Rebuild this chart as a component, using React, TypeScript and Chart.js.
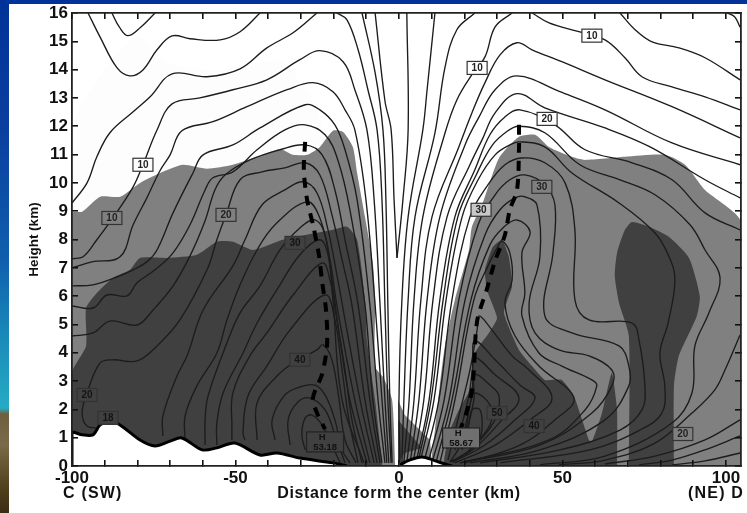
import React, { useEffect, useRef } from "react";
import { Chart, registerables } from "chart.js";

Chart.register(...registerables);

type P = [number, number];

const xMin = -100;
const xMax = 104.6;
const yMin = 0;
const yMax = 16;
const xLabelled = [-100, -50, 0, 50, 100];

// shaded regions, km
const faintShade: P[] = [[-100, 9], [-100, 12], [-90, 14], [-80, 15.2], [-70, 14.2], [-55, 14], [-36, 14.3], [-27, 13], [-20, 11]];
const midLeft: P[] = [[-100, 0], [-100, 8.94], [-96.9, 8.98], [-91.4, 9.51], [-85.3, 9.51], [-79.2, 10], [-72.2, 10.39], [-66.1, 10.64], [-58.7, 10.5], [-50.8, 10.64], [-43.4, 10.92], [-36.4, 11.2], [-32.4, 10.99], [-28.1, 10.99], [-24.2, 11.27], [-20.2, 11.84], [-17.1, 11.8], [-14.1, 11.27], [-12.8, 10.35], [-10.4, 8.8], [-8, 7.17], [-7.3, 5.87], [-7.3, 3.5], [-4.9, 3.15], [-2.1, 2.33], [-1.2, 0.11], [-1.2, 0]];
const darkLeft: P[] = [[-100, 0], [-100, 3.3], [-95.7, 4.24], [-95.7, 5.58], [-92.4, 6.11], [-87.5, 6.64], [-82.3, 6.93], [-79.2, 7.35], [-70.9, 7.35], [-61.8, 7.46], [-55.7, 7.92], [-50.8, 7.92], [-44.6, 7.63], [-35.5, 7.99], [-20.2, 8.34], [-15.9, 8.45], [-12.8, 7.99], [-10.4, 5.87], [-9.8, 4.45], [-7.3, 2.33], [-5.2, 0.11], [-5.2, 0]];
const midRight: P[] = [[10.1, 0], [10.1, 0.39], [11, 1.27], [12.5, 2.86], [14.1, 4.28], [17.1, 5.87], [21.4, 7.63], [22.3, 8.45], [25.4, 9.22], [30.6, 10.88], [36.7, 11.63], [41.6, 11.7], [45.9, 11.27], [52.9, 10.92], [56.9, 10.81], [69.1, 10.92], [81.3, 10.99], [87.5, 10.64], [93.6, 9.75], [104.6, 8.62], [104.6, 0]];
const midCentre: P[] = [[-0.3, 2.33], [1.8, 1.8], [9.5, 0.92], [10.1, 0], [-0.3, 0]];
const darkCentre: P[] = [[-0.3, 1.63], [7, 0.64], [1.8, 0.46], [-0.3, 0.11]];
const darkRightMain: P[] = [[13.8, 0], [13.8, 0.21], [15.3, 1.17], [18.3, 1.98], [22.3, 2.83], [23.2, 3.99], [27.5, 4.7], [30, 5.23], [26.9, 6.22], [26.3, 6.93], [28.7, 7.74], [31.5, 7.99], [33.6, 7.39], [34.6, 6.36], [32.1, 5.41], [36.7, 4.1], [40.7, 3.53], [44.6, 3.04], [49.8, 3.04], [53.5, 2.47], [58.1, 0.92], [59, 0.85], [62.1, 1.87], [65.1, 3.29], [66.7, 1.98], [66.7, 0]];
const darkBlob: P[] = [[70.3, 0], [70.3, 4.59], [67.3, 5.76], [66, 6.71], [66.7, 7.53], [69.1, 8.34], [71.3, 8.62], [76.5, 8.45], [82.6, 8.09], [88.7, 7.35], [92, 6.01], [91.1, 5.3], [85.6, 3.89], [84.1, 2.83], [84.1, 0]];

// ground
const terrainLeft: P[] = [[-100, 0], [-100, 1.17], [-96.9, 1.1], [-93.6, 1.1], [-91.4, 1.45], [-88.4, 1.59], [-85.3, 1.45], [-79.2, 0.92], [-74.6, 0.71], [-70, 0.88], [-66.4, 0.99], [-60.2, 0.57], [-55.7, 0.64], [-50.2, 0.81], [-42.5, 0.39], [-37.3, 0.46], [-30.3, 0.28], [-20.2, 0.11], [-15.9, 0]];
const terrainRight: P[] = [[0.3, 0.04], [3, 0.2], [7, 0.32], [10.7, 0.2], [14, 0.07], [16.2, 0]];

// contours on the left
const cTopDip: P[] = [[-87.8, 16], [-85.5, 15.5], [-82.9, 15.2], [-79, 15.5], [-74.6, 16]];
const cTop2: P[] = [[-95.1, 16], [-91.4, 15.15], [-86.2, 14.06], [-82.3, 13.78], [-78.3, 13.99], [-74, 14.7], [-69.4, 15.19], [-63.9, 15.09], [-54.7, 15.05], [-48.6, 15.34], [-42.5, 16]];
const cTop3: P[] = [[-100, 9.29], [-95.4, 10], [-92.4, 10.92], [-88.4, 11.77], [-81.3, 12.51], [-76.1, 13.04], [-69.4, 13.85], [-58.7, 13.75], [-48.6, 14.03], [-40.4, 14.77], [-32.4, 15.3], [-25.1, 16]];
const cDown1: P[] = [[-11.3, 16], [-7.3, 13.89], [-4.9, 11.87], [-4, 9.4], [-3.4, 5.69], [-2.8, 2.33], [-2.1, 0.11]];
const cDown2: P[] = [[-19, 16], [-15.9, 15.76], [-12.5, 14.7], [-9.5, 13.29], [-6.7, 11.87], [-5.2, 9.4], [-4.3, 5.69], [-3.4, 2.33], [-2.4, 0.11]];
const cLeftA: P[] = [[-100, 7.32], [-96.6, 7.39], [-92.4, 7.99], [-87.5, 8.76], [-81.3, 9.86], [-78.3, 10.64], [-74, 11.87], [-69.4, 12.79], [-60.9, 13], [-50.8, 13.29], [-40.4, 13.64], [-30.3, 14.35], [-24.2, 14.67], [-17.1, 14.28], [-13.5, 13.29], [-9.8, 11.87], [-7.6, 9.4], [-5.8, 5.69], [-4.3, 2.33], [-3.1, 0.11]];
const cLeftB: P[] = [[-100, 7], [-93.9, 7.21], [-85.3, 7.39], [-81.3, 8.52], [-77.1, 9.47], [-73.1, 10.43], [-70, 10.99], [-66.4, 11.84], [-56.9, 12.16], [-46.5, 12.69], [-34.2, 13.29], [-26.3, 13.54], [-20.2, 13.22], [-16.5, 12.58], [-13.5, 11.87], [-10.1, 9.4], [-7.3, 5.69], [-5.2, 2.33], [-3.7, 0.11]];
const cLeftC: P[] = [[-100, 6.36], [-93.6, 6.4], [-86.2, 6.68], [-81.3, 6.93], [-77.1, 7.21], [-74, 7.63], [-69.1, 8.94], [-63, 10.35], [-59.9, 10.99], [-50.8, 11.34], [-42.5, 11.94], [-28.7, 12.76], [-24.2, 12.58], [-19.6, 12.05], [-16.5, 11.17], [-12.8, 9.4], [-8.9, 5.69], [-6.4, 2.33], [-4.3, 0.11]];
const cLeftD: P[] = [[-100, 5.65], [-93.6, 5.58], [-89.3, 6.04], [-83.2, 6.01], [-80.1, 6.47], [-74.6, 6.93], [-69.1, 7.53], [-63.9, 8.52], [-59.3, 9.75], [-56.9, 10.18], [-50.8, 10.39], [-43.4, 11.17], [-34.9, 11.87], [-28.7, 12.05], [-22.6, 11.7], [-18.7, 10.81], [-15, 9.05], [-10.4, 5.69], [-8, 2.33], [-5.2, 0.11]];
const cLeftE: P[] = [[-100, 4.59], [-93.6, 4.7], [-88.4, 5.12], [-80.1, 4.98], [-75.2, 5.51], [-69.1, 6.36], [-63.9, 7.42], [-59.3, 8.66], [-56.3, 9.75], [-53.2, 10.28], [-45.6, 10.81], [-36.4, 11.17], [-28.7, 11.34], [-23.5, 10.99], [-19.6, 9.75], [-16.5, 7.99], [-12.5, 5.69], [-8.9, 2.33], [-5.8, 0.11]];
const cLeftF: P[] = [[-91.4, 1.34], [-95.4, 1.41], [-96.9, 1.87], [-95.4, 2.58], [-91.4, 3.64], [-87.5, 3.75], [-80.1, 3.71], [-74, 4.24], [-67, 5.16], [-58.7, 6.93], [-55.7, 7.99], [-52.9, 8.87], [-48.6, 10.11], [-41.9, 10.39], [-34.9, 10.53], [-28.7, 10.71], [-24.2, 10.28], [-20.5, 8.87], [-17.4, 7.28], [-14.4, 5.69], [-10.4, 2.33], [-6.7, 0.11]];
const cLeftG: P[] = [[-72.2, 1.06], [-72.2, 1.77], [-67.9, 3.18], [-64.8, 3.89], [-59.9, 5.51], [-50.8, 7.07], [-47.1, 7.99], [-41.9, 9.22], [-34.9, 9.75], [-29.4, 10.04], [-25.1, 9.65], [-21.7, 8.34], [-18.7, 6.57], [-16.5, 5.16], [-11.9, 2.33], [-7.6, 0.11]];
const cLeftH: P[] = [[-65.4, 0.88], [-65.4, 1.77], [-61.8, 2.83], [-55.7, 3.99], [-52.6, 5.16], [-48.6, 6.4], [-43.4, 7.63], [-37.9, 8.52], [-28.1, 9.33], [-24.2, 8.76], [-21.1, 7.28], [-19, 5.69], [-13.5, 2.33], [-8.9, 0.11]];
const cLeftI: P[] = [[-59.3, 0.74], [-59.3, 1.63], [-58.4, 2.47], [-52.6, 4.35], [-48.6, 5.41], [-42.5, 6.36], [-36.4, 7.63], [-30.3, 8.41], [-25.7, 8.69], [-22.6, 8.16], [-20.5, 6.57], [-18, 4.45], [-15, 2.33], [-9.8, 0.11]];
const cLeftJ: P[] = [[-55.7, 0.74], [-55.7, 1.52], [-53.8, 2.58], [-47.7, 3.99], [-43.4, 5.05], [-36.4, 6.4], [-30.3, 7.46], [-24.2, 7.99], [-21.7, 7.46], [-20.2, 5.87], [-17.4, 2.33], [-10.7, 0.11]];
const cLeftK: P[] = [[-51.1, 0.92], [-51.1, 1.41], [-50.8, 2.58], [-45.6, 3.89], [-40.4, 4.7], [-32.4, 6.04], [-23.5, 7.17], [-21.1, 6.57], [-19, 5.16], [-16.5, 3.39], [-14.4, 1.63], [-11.3, 0.11]];
const cLeftL: P[] = [[-47.1, 0.92], [-47.7, 1.17], [-46.2, 2.47], [-40.4, 3.53], [-33.3, 4.81], [-22.6, 6.04], [-19.6, 5.16], [-17.4, 3.39], [-15.3, 1.63], [-12.5, 0.11]];
const cLeftM: P[] = [[-43.4, 0.92], [-43.4, 2.23], [-37.3, 3.18], [-32.4, 3.64], [-25.1, 4.1], [-23.2, 4.28], [-20.5, 3.75], [-18.3, 2.33], [-16.5, 0.92], [-13.1, 0.11]];
const cLeftN: P[] = [[-37.9, 0.92], [-38.8, 1.63], [-34.9, 2.51], [-30.3, 2.79], [-25.7, 2.86], [-22.6, 2.51], [-19.6, 1.63], [-17.4, 0.57], [-15, 0.11]];
const cLeftO: P[] = [[-33.3, 0.74], [-33.9, 1.63], [-30.9, 2.26], [-27.2, 2.4], [-22.6, 1.98], [-19.6, 1.1], [-16.5, 0.11]];
const cLeftP: P[] = [[-28.7, 0.57], [-29.7, 1.1], [-28.7, 1.7], [-26.6, 1.8], [-23.5, 1.45], [-20.5, 0.74], [-18, 0.11]];

// central V
const cVeeLeft: P[] = [[-7.3, 16], [-4.3, 12.9], [-2.4, 11.87], [-1.5, 9.4], [-0.6, 7.35]];
const cVeeRight: P[] = [[2.4, 16], [2.8, 11.87], [1.2, 9.4], [-0.6, 7.35]];

// contours on the right
const cFanA: P[] = [[0.3, 0.11], [0, 2.33], [0.9, 5.87], [2.8, 8.8], [7.3, 11.87], [8.6, 13.29], [11, 16]];
const cFanB: P[] = [[0.9, 0.11], [1.5, 2.33], [2.8, 5.87], [4.9, 8.8], [11, 11.77], [14.1, 14.1], [17.7, 15.41], [23.2, 16]];
const cFanC: P[] = [[1.5, 0.11], [3.1, 2.33], [4.6, 5.87], [7.3, 8.8], [14.1, 11.77], [17.7, 12.93], [22.3, 13.82], [26.3, 14.45], [29.4, 15.51], [34.6, 16]];
const cRightA: P[] = [[2.4, 0.11], [4.6, 2.33], [6.7, 5.87], [10.1, 8.8], [18.3, 11.27], [22.3, 12.47], [26.3, 13.54], [30.9, 14.52], [36.1, 14.95], [40.7, 14.7], [49.8, 14.28], [63, 13.64], [83.5, 12.69], [104.3, 11.59]];
const cRightB: P[] = [[3.4, 0.11], [6.1, 2.33], [8.6, 5.87], [12.5, 8.8], [20.2, 11.34], [24.5, 12.33], [29.4, 13.29], [36.1, 13.78], [49.2, 13.22], [63, 12.58], [83.5, 11.41], [104.3, 10.64]];
const cRightC: P[] = [[4.3, 0.11], [7.6, 2.33], [10.4, 5.87], [14.7, 8.8], [21.7, 10.64], [25.4, 11.52], [29.4, 12.47], [36.1, 13.15], [44.6, 12.65], [63, 11.94], [76.8, 11.27], [93.6, 10.11], [104.3, 9.47]];
const cRightD: P[] = [[5.2, 0.11], [9.2, 2.33], [12.5, 5.87], [17.1, 8.8], [23.2, 10.46], [27.8, 11.7], [32.4, 12.33], [37, 12.58], [47.7, 12.05], [56.9, 11.17], [71.3, 10.71], [83.5, 10.11], [93.6, 8.94], [104.3, 8.34]];
const cRightX: P[] = [[5.8, 0.11], [9.8, 2.33], [13.5, 5.87], [18, 8.8], [23.5, 10.25], [28.4, 11.31], [33.3, 11.84], [36.7, 12], [44.6, 11.77], [55.3, 10.64], [67.6, 10.11], [78.3, 9.58], [89, 8.52], [93.6, 7.63], [98.2, 6.64], [94.8, 5.41], [90.5, 4.24], [89.6, 2.58], [83.5, 1.52], [63, 0.35], [43.1, 0.04]];
const cRightE: P[] = [[6.4, 0.11], [10.7, 2.33], [14.4, 5.87], [19.3, 8.8], [24.2, 10.11], [29.4, 10.99], [33.9, 11.34], [36.7, 11.45], [44.6, 11.27], [52.9, 10.35], [67.3, 9.29], [78.3, 8.23], [82.6, 7.39], [84.4, 6.57], [82.3, 5.05], [79.8, 3.99], [81.3, 2.83], [80.4, 1.87], [73.7, 1.27], [58.4, 0.57], [30.9, 0.11]];
const cRightF: P[] = [[7.6, 0.11], [12.2, 2.33], [16.2, 5.87], [21.7, 8.8], [27.2, 9.93], [32.4, 10.64], [37.6, 10.88], [44.6, 10.71], [50.8, 10], [53.8, 8.34], [53.8, 5.87], [58.1, 5.16], [71.3, 5.05], [73.4, 4.45], [75.2, 2.83], [74.3, 1.98], [67.6, 1.27], [49.2, 0.57], [24.8, 0.11]];
const cRightG: P[] = [[8.9, 0.11], [13.8, 2.33], [18.3, 5.87], [24.2, 8.52], [29.4, 9.58], [33.9, 10.11], [38.5, 10.28], [44.6, 9.93], [47.7, 9.22], [47.1, 7.53], [44.6, 5.3], [52.9, 4.7], [67.3, 4.24], [70.3, 3.53], [70.3, 2.83], [63, 1.63], [43.1, 0.57], [21.7, 0.11]];
const cRightH: P[] = [[10.1, 0.11], [15.3, 2.33], [20.2, 5.87], [26.3, 8.16], [30.9, 9.05], [35.5, 9.47], [38.5, 9.51], [42.2, 9.22], [43.1, 7.39], [39.8, 5.76], [41.6, 4.7], [48.9, 4.1], [58.1, 3.89], [65.1, 3.39], [65.1, 2.83], [59, 1.87], [43.1, 0.74], [18.7, 0.11]];
const cRightI: P[] = [[11.3, 0.11], [16.2, 2.33], [22, 5.87], [27.8, 7.81], [31.8, 8.41], [36.1, 8.69], [40.1, 8.27], [37.6, 7.53], [38.5, 6.11], [37.6, 5.3], [42.8, 3.99], [49.8, 3.53], [59, 3.04], [60.5, 2.83], [56.9, 1.98], [45.9, 0.92], [18.7, 0.11]];
const cRightJ: P[] = [[12.5, 0.11], [17.1, 2.33], [22.9, 5.87], [27.8, 7.21], [30, 7.7], [31.5, 7.95], [33.9, 7.53], [34.6, 6.57], [32.4, 5.76], [35.5, 4.59], [42.8, 3.53], [53.5, 2.4], [47.7, 1.63], [37, 0.74], [20.2, 0.11]];
const cRightK: P[] = [[15, 0.21], [18, 1.63], [21.7, 3.39], [23.9, 4.81], [24.5, 5.3], [28.4, 4.81], [34.6, 3.89], [39.8, 3.39], [46.8, 2.4], [40.1, 1.63], [29.4, 0.74], [17.1, 0.11]];
const cRightL: P[] = [[17.1, 0.57], [21.1, 2.33], [22.6, 3.57], [23.2, 4.42], [29.4, 3.75], [37, 2.86], [41.6, 2.4], [35.5, 1.63], [26.3, 0.74], [16.5, 0.14]];
const cRightM: P[] = [[15.6, 0.14], [18.7, 0.74], [22, 2.33], [22.6, 3.04], [23.2, 3.82], [29.4, 3.22], [36.7, 2.4], [30.9, 1.55], [23.2, 0.64], [16.2, 0.14]];
const cRightN: P[] = [[19.3, 0.57], [22.9, 2.33], [23.2, 3.22], [27.8, 2.86], [30.6, 2.47], [29.4, 1.63], [21.7, 0.57], [15.6, 0.14]];
const cRightO: P[] = [[20.2, 0.92], [21.7, 2.16], [23.2, 2.58], [27.8, 2.16], [27.8, 1.45], [20.2, 0.39]];
const cRightP: P[] = [[21.1, 1.27], [22.3, 1.98], [24.8, 1.98], [25.4, 1.27], [24.2, 0.85]];
const cCorner1: P[] = [[40.7, 16], [45.9, 15.65], [55, 15.34], [63, 15.05], [69.1, 14.42], [74.3, 13.75], [83.5, 13.39], [93.6, 13.04], [104.3, 12.58]];
const cCorner2: P[] = [[67.6, 16], [72.2, 15.41], [77.4, 14.98], [85.6, 14.77], [93.6, 14.42], [104.3, 13.64]];
const cCorner3: P[] = [[100.3, 16], [102.7, 15.86], [104.3, 15.5]];
const cGround1: P[] = [[104.3, 4.63], [99.7, 3.39], [96.6, 2.69], [89.6, 1.87], [78.3, 0.81], [63, 0.21], [48.9, 0.04]];
const cGround2: P[] = [[104.3, 1.63], [93.6, 0.92], [78.3, 0.35], [63, 0.07]];
const cGround3: P[] = [[104.3, 1.06], [93.6, 0.57], [83.5, 0.21], [73.4, 0.04]];
const cGround4: P[] = [[104.3, 0.46], [93.6, 0.18], [83.5, 0.04]];

const contours: P[][] = [cTopDip, cTop2, cTop3, cDown1, cDown2, cLeftA, cLeftB, cLeftC, cLeftD, cLeftE, cLeftF, cLeftG, cLeftH, cLeftI, cLeftJ, cLeftK, cLeftL, cLeftM, cLeftN, cLeftO, cLeftP, cVeeLeft, cVeeRight, cFanA, cFanB, cFanC, cRightA, cRightB, cRightC, cRightD, cRightX, cRightE, cRightF, cRightG, cRightH, cRightI, cRightJ, cRightK, cRightL, cRightM, cRightN, cRightO, cRightP, cCorner1, cCorner2, cCorner3, cGround1, cGround2, cGround3, cGround4];

// axes of maximum wind
const maxWindLeft: P[] = [[-28.7, 11.45], [-29.1, 10.46], [-28.1, 9.4], [-26.3, 8.52], [-24.5, 7.46], [-23.5, 6.5], [-22.3, 5.5], [-22, 4.28], [-23.5, 3.25], [-26.3, 2.4], [-25, 1.85], [-22.6, 1.3]];
const maxWindRight: P[] = [[36.7, 12.05], [36.7, 11.2], [36.1, 9.75], [33.9, 9.05], [32.4, 8.16], [29.4, 7.25], [26.9, 6.25], [23.9, 5.12], [22.9, 3.4], [22.3, 2.65], [20.8, 1.95], [18.7, 1.27]];

// boxed contour labels
const labelTexts = ["10", "10", "20", "30", "40", "20", "18", "10", "10", "20", "30", "30", "50", "40", "20"];
const labelXs = [-78.3, -87.8, -52.9, -31.8, -30.3, -95.4, -89, 23.9, 59, 45.3, 43.7, 25.1, 30, 41.3, 86.8];
const labelYs = [10.64, 8.76, 8.87, 7.88, 3.75, 2.51, 1.7, 14.06, 15.2, 12.26, 9.86, 9.05, 1.87, 1.41, 1.13];
const labelFills = ["#fdfdfd", "#808080", "#808080", "#404040", "#404040", "#404040", "#404040", "#ffffff", "#ffffff", "#ffffff", "#808080", "#c8c8c8", "#404040", "#404040", "#808080"];
const highTexts = [["H", "53.18"], ["H", "58.67"]];
const highXs = [-22.6, 19];
const highYs = [0.85, 0.99];
const highFills = ["#404040", "#707070"];

const toPts = (a: P[]) => a.map(([x, y]) => ({ x, y }));

const shape = (pts: P[], color: string, tension = 0.2) => ({
  data: toPts(pts), polyFill: color, borderColor: "rgba(0,0,0,0)", borderWidth: 0, pointRadius: 0, tension, fill: false,
});
const contourLine = (pts: P[]) => ({
  data: toPts(pts), borderColor: "#1c1c1c", borderWidth: 1.35, pointRadius: 0, tension: 0.38, fill: false,
});
const ground = (pts: P[]) => ({
  data: toPts(pts), polyFill: "#ffffff", borderColor: "#000000", borderWidth: 3, pointRadius: 0, tension: 0.3, fill: false,
});
const windAxis = (pts: P[]) => ({
  data: toPts(pts), borderColor: "#000000", borderWidth: 4, borderDash: [10, 8], pointRadius: 0, tension: 0.3, fill: false,
});

const polygonPlugin = {
  id: "polygonFill",
  beforeDatasetDraw(chart: any, args: any) {
    const ds = chart.data.datasets[args.index];
    if (!ds.polyFill) return;
    const { ctx, chartArea: a } = chart;
    ctx.save();
    ctx.beginPath();
    ctx.rect(a.left, a.top, a.right - a.left, a.bottom - a.top);
    ctx.clip();
    ctx.beginPath();
    args.meta.dataset.path(ctx);
    ctx.closePath();
    ctx.fillStyle = ds.polyFill;
    ctx.fill();
    ctx.restore();
  },
};

const sans = '"Liberation Sans", Arial, sans-serif';

const annotationPlugin = {
  id: "annotations",
  afterDatasetsDraw(chart: any) {
    const { ctx, scales } = chart;
    const sx = scales.x;
    const sy = scales.y;
    ctx.save();
    ctx.textAlign = "center";
    ctx.textBaseline = "middle";
    ctx.lineWidth = 1.2;
    labelTexts.forEach((t, i) => {
      const px = sx.getPixelForValue(labelXs[i]);
      const py = sy.getPixelForValue(labelYs[i]);
      ctx.fillStyle = labelFills[i];
      ctx.fillRect(px - 10, py - 6.5, 20, 13);
      ctx.strokeStyle = "#333";
      ctx.strokeRect(px - 10, py - 6.5, 20, 13);
      ctx.fillStyle = labelFills[i] === "#404040" ? "#141414" : "#222";
      ctx.font = `bold 10px ${sans}`;
      ctx.fillText(t, px, py + 0.5);
    });
    highTexts.forEach((t, i) => {
      const px = sx.getPixelForValue(highXs[i]);
      const py = sy.getPixelForValue(highYs[i]);
      ctx.fillStyle = highFills[i];
      ctx.fillRect(px - 18.5, py - 10, 37, 20);
      ctx.strokeStyle = "#222";
      ctx.strokeRect(px - 18.5, py - 10, 37, 20);
      ctx.fillStyle = "#111";
      ctx.font = `bold 9.5px ${sans}`;
      ctx.fillText(t[0], px - 3, py - 4.5);
      ctx.fillText(t[1], px, py + 5);
    });
    ctx.restore();
  },
  afterDraw(chart: any) {
    const { ctx, scales } = chart;
    ctx.save();
    ctx.fillStyle = "#111";
    ctx.textBaseline = "middle";
    ctx.font = `bold 16px ${sans}`;
    ctx.textAlign = "center";
    ctx.letterSpacing = "0.6px";
    ctx.fillText("Distance form the center (km)", scales.x.getPixelForValue(0), 494);
    ctx.textAlign = "left";
    ctx.letterSpacing = "1.2px";
    ctx.fillText("C (SW)", 63, 494);
    ctx.fillText("(NE) D", 688, 494);
    ctx.restore();
  },
};

const tickGrid = { drawOnChartArea: false, drawTicks: true, tickLength: -6, color: "#111", lineWidth: 1.6, z: 1 };
const frame = { display: true, color: "#222", width: 1.8, z: 1 };
const noPad = (s: any) => { s.paddingTop = 0; s.paddingBottom = 0; s.paddingLeft = 0; s.paddingRight = 0; };

export default function App() {
  const ref = useRef<HTMLCanvasElement>(null);
  useEffect(() => {
    const painted = [
      shape(faintShade, "#fdfdfd"),
      shape(midLeft, "#808080"),
      shape(midRight, "#808080"),
      shape(midCentre, "#808080", 0),
      shape(darkLeft, "#404040"),
      shape(darkRightMain, "#404040", 0.15),
      shape(darkBlob, "#404040"),
      shape(darkCentre, "#404040", 0),
      ...contours.map(contourLine),
      ground(terrainLeft),
      ground(terrainRight),
      windAxis(maxWindLeft),
      windAxis(maxWindRight),
    ];
    const chart = new Chart(ref.current as HTMLCanvasElement, {
      type: "line",
      data: { datasets: painted.reverse() as any },
      plugins: [polygonPlugin, annotationPlugin],
      options: {
        animation: false,
        responsive: false,
        layout: { padding: { left: 0, right: 6, top: 13, bottom: 0 } },
        plugins: { legend: { display: false }, tooltip: { enabled: false } },
        events: [],
        scales: {
          x: {
            type: "linear", position: "bottom", min: xMin, max: xMax,
            afterFit: (s: any) => { s.height = 47; noPad(s); },
            border: frame, grid: tickGrid,
            ticks: {
              stepSize: 10, autoSkip: false, includeBounds: false, maxRotation: 0, padding: 8,
              color: "#111", font: { family: sans, weight: "bold", size: 17 },
              callback: (v: any) => (xLabelled.includes(Number(v)) ? String(v) : ""),
            },
          },
          y: {
            type: "linear", position: "left", min: yMin, max: yMax,
            afterFit: (s: any) => { s.width = 72; noPad(s); },
            border: frame, grid: tickGrid,
            title: { display: true, text: "Height (km)", color: "#111", padding: { top: 26, bottom: 0 }, font: { family: sans, weight: "bold", size: 13.5 } },
            ticks: {
              stepSize: 1, padding: 10, autoSkip: false,
              color: "#111", font: { family: sans, weight: "bold", size: 17 },
            },
          },
          xTop: {
            type: "linear", position: "top", min: xMin, max: xMax,
            afterFit: (s: any) => { s.height = 0; noPad(s); },
            border: frame, grid: tickGrid,
            ticks: { display: false, stepSize: 10, includeBounds: false },
          },
          yRight: {
            type: "linear", position: "right", min: yMin, max: yMax,
            afterFit: (s: any) => { s.width = 0; noPad(s); },
            border: frame, grid: tickGrid,
            ticks: { display: false, stepSize: 1 },
          },
        },
      } as any,
    });
    return () => chart.destroy();
  }, []);

  return (
    <div style={{ position: "fixed", left: 0, top: 0, width: 747, height: 513, background: "#ffffff", overflow: "hidden" }}>
      <div style={{ position: "absolute", left: 0, top: 0, width: 747, height: 4, background: "#003399" }} />
      <div
        style={{
          position: "absolute", left: 0, top: 0, width: 9, height: 513,
          background:
            "linear-gradient(to bottom,#003399 0,#0a3f9f 130px,#0f5fae 260px,#1a8cb9 340px,#26abc4 408px,#6f5f3f 414px,#7a6a48 445px,#54431f 485px,#3c2c12 513px)",
        }}
      />
      <canvas ref={ref} width={747} height={513} style={{ position: "absolute", left: 0, top: 0, width: 747, height: 513, filter: "blur(0.45px)", background: "transparent" }} />
    </div>
  );
}
